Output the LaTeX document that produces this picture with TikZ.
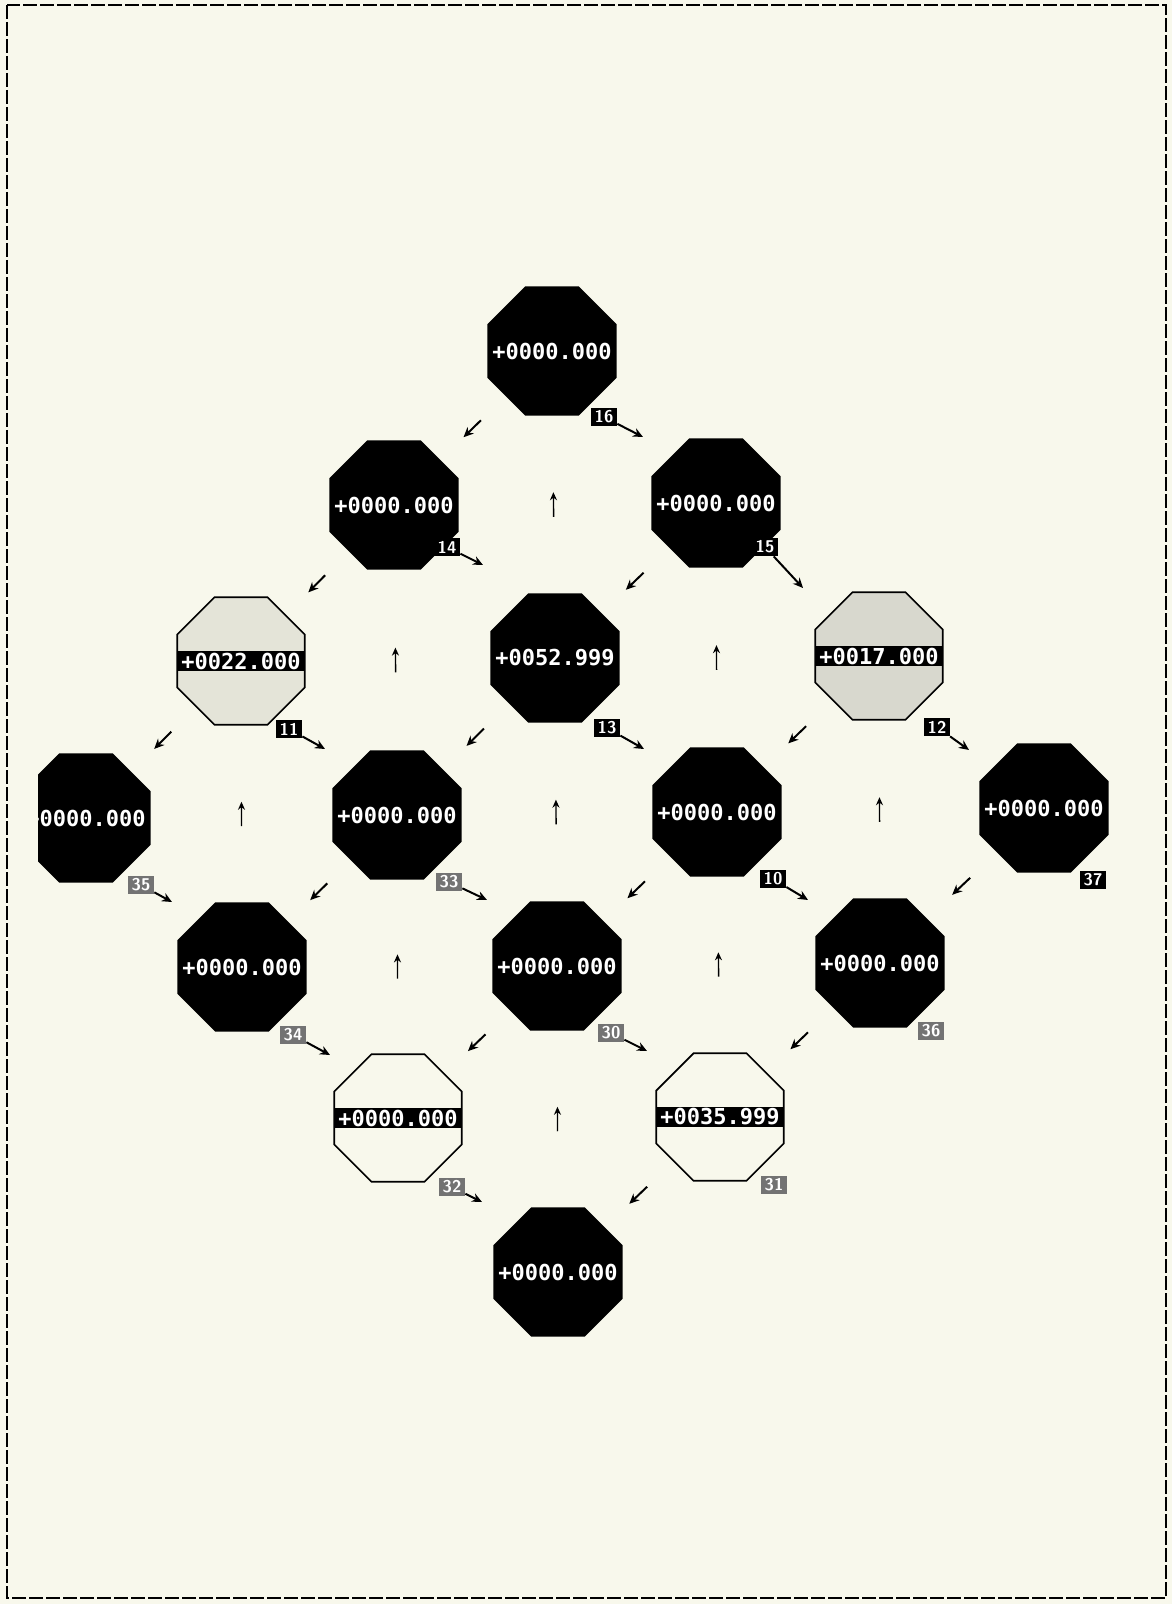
\documentclass[tikz,border=0pt]{standalone}
\usepackage{fontspec}
\usetikzlibrary{shapes.geometric,calc,arrows.meta}
\newfontfamily\cellfont{DejaVu Sans Mono}
\definecolor{paper}{RGB}{248,248,236}
\definecolor{shade}{RGB}{228,228,216}
\definecolor{shadedark}{RGB}{216,216,206}

\tikzset{
  cell/.style={regular polygon, regular polygon sides=8, minimum size=69pt,
    inner sep=0pt, draw=black, line width=0.8pt,
    label={[text=white, font=\cellfont\bfseries\fontsize{11}{11}\selectfont]center:#1}},
  darkcell/.style={cell=#1, fill=black},
  litecell/.style 2 args={cell=#2, fill=#1, path picture={
      \fill[black] ([yshift=-5pt]path picture bounding box.west)
        rectangle ([yshift=5pt]path picture bounding box.east);}},
  tag/.style={fill=black, text=white, inner sep=1.2pt, minimum width=13pt,
    minimum height=9pt, font=\sffamily\bfseries\fontsize{8.5}{8.5}\selectfont},
  fainttag/.style={tag, fill=black!55},
  move/.style={-{Stealth[length=5pt,width=4.5pt]}, line width=1pt},
  rise/.style={-{Stealth[length=4pt,width=3.5pt]}, line width=0.7pt},
}

\begin{document}
\begin{tikzpicture}[x=0.5pt,y=-0.5pt]
    \fill[paper] (0,0) rectangle (1172,1604);
    \useasboundingbox (0,0) rectangle (1172,1604);
    \draw[dash pattern=on 7pt off 1.5pt, line width=0.8pt] (7,5) rectangle (1166,1598);

    % octagons, row by row
    \node[darkcell=+0000.000] (n16) at (552,351) {};
    \node[darkcell=+0000.000] (n14) at (394,505) {};
    \node[darkcell=+0000.000] (n15) at (716,503) {};
    \node[litecell={shade}{+0022.000}] (n11) at (241,661) {};
    \node[darkcell=+0052.999] (n13) at (555,658) {};
    \node[litecell={shadedark}{+0017.000}] (n12) at (879,656) {};
    \begin{scope}
        \clip (38,700) rectangle (220,950);
        \node[darkcell=+0000.000] (n35) at (86,818) {};
    \end{scope}
    \node[darkcell=+0000.000] (n33) at (397,815) {};
    \node[darkcell=+0000.000] (n10) at (717,812) {};
    \node[darkcell=+0000.000] (n37) at (1044,808) {};
    \node[darkcell=+0000.000] (n34) at (242,967) {};
    \node[darkcell=+0000.000] (n30) at (557,966) {};
    \node[darkcell=+0000.000] (n36) at (880,963) {};
    \node[litecell={paper}{+0000.000}] (n32) at (398,1118) {};
    \node[litecell={paper}{+0035.999}] (n31) at (720,1117) {};
    \node[darkcell=+0000.000] (n0) at (558,1272) {};

    % number tags
    \node[tag] (t16) at (604,417) {16};
    \node[tag] (t14) at (447,547) {14};
    \node[tag] (t15) at (765,547) {15};
    \node[tag] (t11) at (289,729) {11};
    \node[tag] (t13) at (607,728) {13};
    \node[tag] (t12) at (937,727) {12};
    \node[fainttag] (t35) at (141,885) {35};
    \node[fainttag] (t33) at (449,882) {33};
    \node[tag] (t10) at (773,879) {10};
    \node[tag] (t37) at (1093,880) {37};
    \node[fainttag] (t34) at (293,1035) {34};
    \node[fainttag] (t30) at (611,1033) {30};
    \node[fainttag] (t36) at (931,1031) {36};
    \node[fainttag] (t32) at (452,1187) {32};
    \node[fainttag] (t31) at (774,1185) {31};

    % ends of the tag arrows
    \coordinate (e16) at (643,437);
    \coordinate (e14) at (483,565);
    \coordinate (e15) at (803,588);
    \coordinate (e11) at (325,749);
    \coordinate (e13) at (644,749);
    \coordinate (e12) at (969,750);
    \coordinate (e35) at (172,902);
    \coordinate (e33) at (487,900);
    \coordinate (e10) at (808,900);
    \coordinate (e34) at (330,1055);
    \coordinate (e30) at (647,1051);
    \coordinate (e32) at (482,1202);

    \path[move]
        (t16) edge (e16)
        (t14) edge (e14)
        (t15) edge (e15)
        (t11) edge (e11)
        (t13) edge (e13)
        (t12) edge (e12)
        (t35) edge (e35)
        (t33) edge (e33)
        (t10) edge (e10)
        (t34) edge (e34)
        (t30) edge (e30)
        (t32) edge (e32);

    % down-left arrows
    \foreach \a/\b in {n16/n14, n14/n11, n15/n13, n11/n35, n13/n33, n12/n10,
                       n33/n34, n10/n30, n37/n36, n30/n32, n36/n31, n31/n0}
        \draw[move] ($(\a)!0.45!(\b)$) -- ($(\a)!0.56!(\b)$);

    % upward arrows
    \foreach \a/\b in {n13/n16, n33/n14, n10/n15, n34/n11, n30/n13, n36/n12,
                       n32/n33, n31/n10, n0/n30}
        \draw[rise] ($(\a)!0.46!(\b)$) -- ($(\a)!0.54!(\b)$);
\end{tikzpicture}
\end{document}
